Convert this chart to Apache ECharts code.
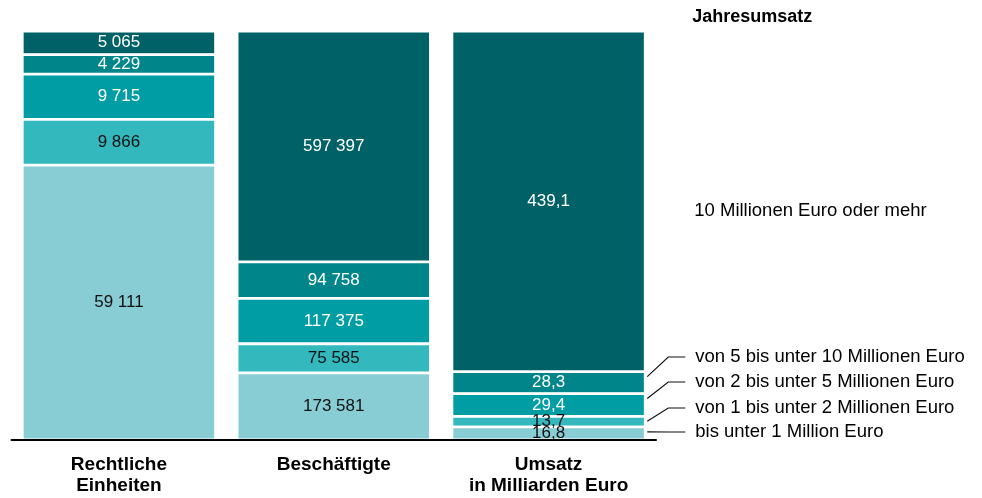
<!DOCTYPE html>
<html>
<head>
<meta charset="utf-8">
<script src="https://cdn.jsdelivr.net/npm/echarts@6/dist/echarts.min.js"></script>
<style>
  html, body { margin: 0; padding: 0; background: #fff; }
  #chart { width: 982px; height: 498px; }
</style>
</head>
<body>
<div id="chart"></div>
<script>
// Kategorien und Größenklassen (von unten nach oben)
const categories = ['Rechtliche\nEinheiten', 'Beschäftigte', 'Umsatz\nin Milliarden Euro'];
const classes = [
  'bis unter 1 Million Euro',
  'von 1 bis unter 2 Millionen Euro',
  'von 2 bis unter 5 Millionen Euro',
  'von 5 bis unter 10 Millionen Euro',
  '10 Millionen Euro oder mehr'
];
const einheiten = [59111, 9866, 9715, 4229, 5065];
const beschaeftigte = [173581, 75585, 117375, 94758, 597397];
const umsatz = [16.8, 13.7, 29.4, 28.3, 439.1];

const colors = ['#88cdd3', '#33b8bd', '#009da5', '#00868a', '#006266'];
const FONT = '"Liberation Sans", Arial, Helvetica, sans-serif';

const columns = [einheiten, beschaeftigte, umsatz];
const totals = columns.map(c => c.reduce((a, b) => a + b, 0));

function fmt(v, col) {
  if (col === 2) return v.toFixed(1).replace('.', ',');
  return String(v).replace(/\B(?=(\d{3})+(?!\d))/g, ' ');
}

const chart = echarts.init(document.getElementById('chart'));

chart.setOption({
  animation: false,
  grid: { left: 11.5, right: 326, top: 31, bottom: 58 },
  xAxis: {
    type: 'category',
    data: categories,
    z: 10,
    axisLine: { show: true, lineStyle: { color: '#000', width: 2 } },
    axisTick: { show: false },
    axisLabel: {
      margin: 14,
      color: '#000',
      fontFamily: FONT,
      fontSize: 19,
      fontWeight: 'bold',
      lineHeight: 21
    }
  },
  yAxis: { type: 'value', min: 0, max: 100, show: false },
  series: classes.map((name, i) => ({
    name: name,
    type: 'bar',
    stack: 'all',
    barCategoryGap: '10%',
    data: columns.map((c, j) => ({ value: c[i] / totals[j] * 100, raw: c[i] })),
    itemStyle: { color: colors[i], borderColor: '#fff', borderWidth: 1.4 },
    label: {
      show: true,
      position: 'inside',
      color: i < 2 ? '#111' : '#fff',
      fontFamily: FONT,
      fontSize: 17,
      formatter: p => fmt(p.data.raw, p.dataIndex)
    }
  }))
});

// Beschriftung der Größenklassen rechts neben der Umsatzsäule
function buildAnnotations() {
  const x0 = chart.convertToPixel({ xAxisIndex: 0 }, 0);
  const x1 = chart.convertToPixel({ xAxisIndex: 0 }, 1);
  const x2 = chart.convertToPixel({ xAxisIndex: 0 }, 2);
  const barRight = x2 + (x1 - x0) * 0.9 / 2;
  const baseY = chart.convertToPixel({ yAxisIndex: 0 }, 0);
  const textX = barRight + 50;

  const els = [{
    type: 'text', left: textX - 3, top: 8,
    style: { text: 'Jahresumsatz', font: 'bold 18px ' + FONT, fill: '#000' }
  }];

  const labelOffsets = [-9, -33, -59, -84];
  let cum = 0;
  classes.forEach((name, i) => {
    const share = umsatz[i] / totals[2] * 100;
    const top = chart.convertToPixel({ yAxisIndex: 0 }, cum + share);
    const bottom = chart.convertToPixel({ yAxisIndex: 0 }, cum);
    cum += share;
    if (i === classes.length - 1) {
      els.push({
        type: 'text', left: textX - 1, top: 201,
        style: { text: name, font: '18.5px ' + FONT, fill: '#000' }
      });
      return;
    }
    const ly = baseY + labelOffsets[i] + 1;
    const sy = Math.min(top + 5, (top + bottom) / 2);
    els.push({
      type: 'polyline',
      shape: { points: [[barRight + 2, sy], [barRight + 23, ly], [barRight + 40, ly]] },
      style: { stroke: '#111', lineWidth: 1.2, fill: null }
    });
    els.push({
      type: 'text', left: textX, top: ly - 10,
      style: { text: name, font: '18.5px ' + FONT, fill: '#000' }
    });
  });
  chart.setOption({ graphic: els });
}
buildAnnotations();
</script>
</body>
</html>
